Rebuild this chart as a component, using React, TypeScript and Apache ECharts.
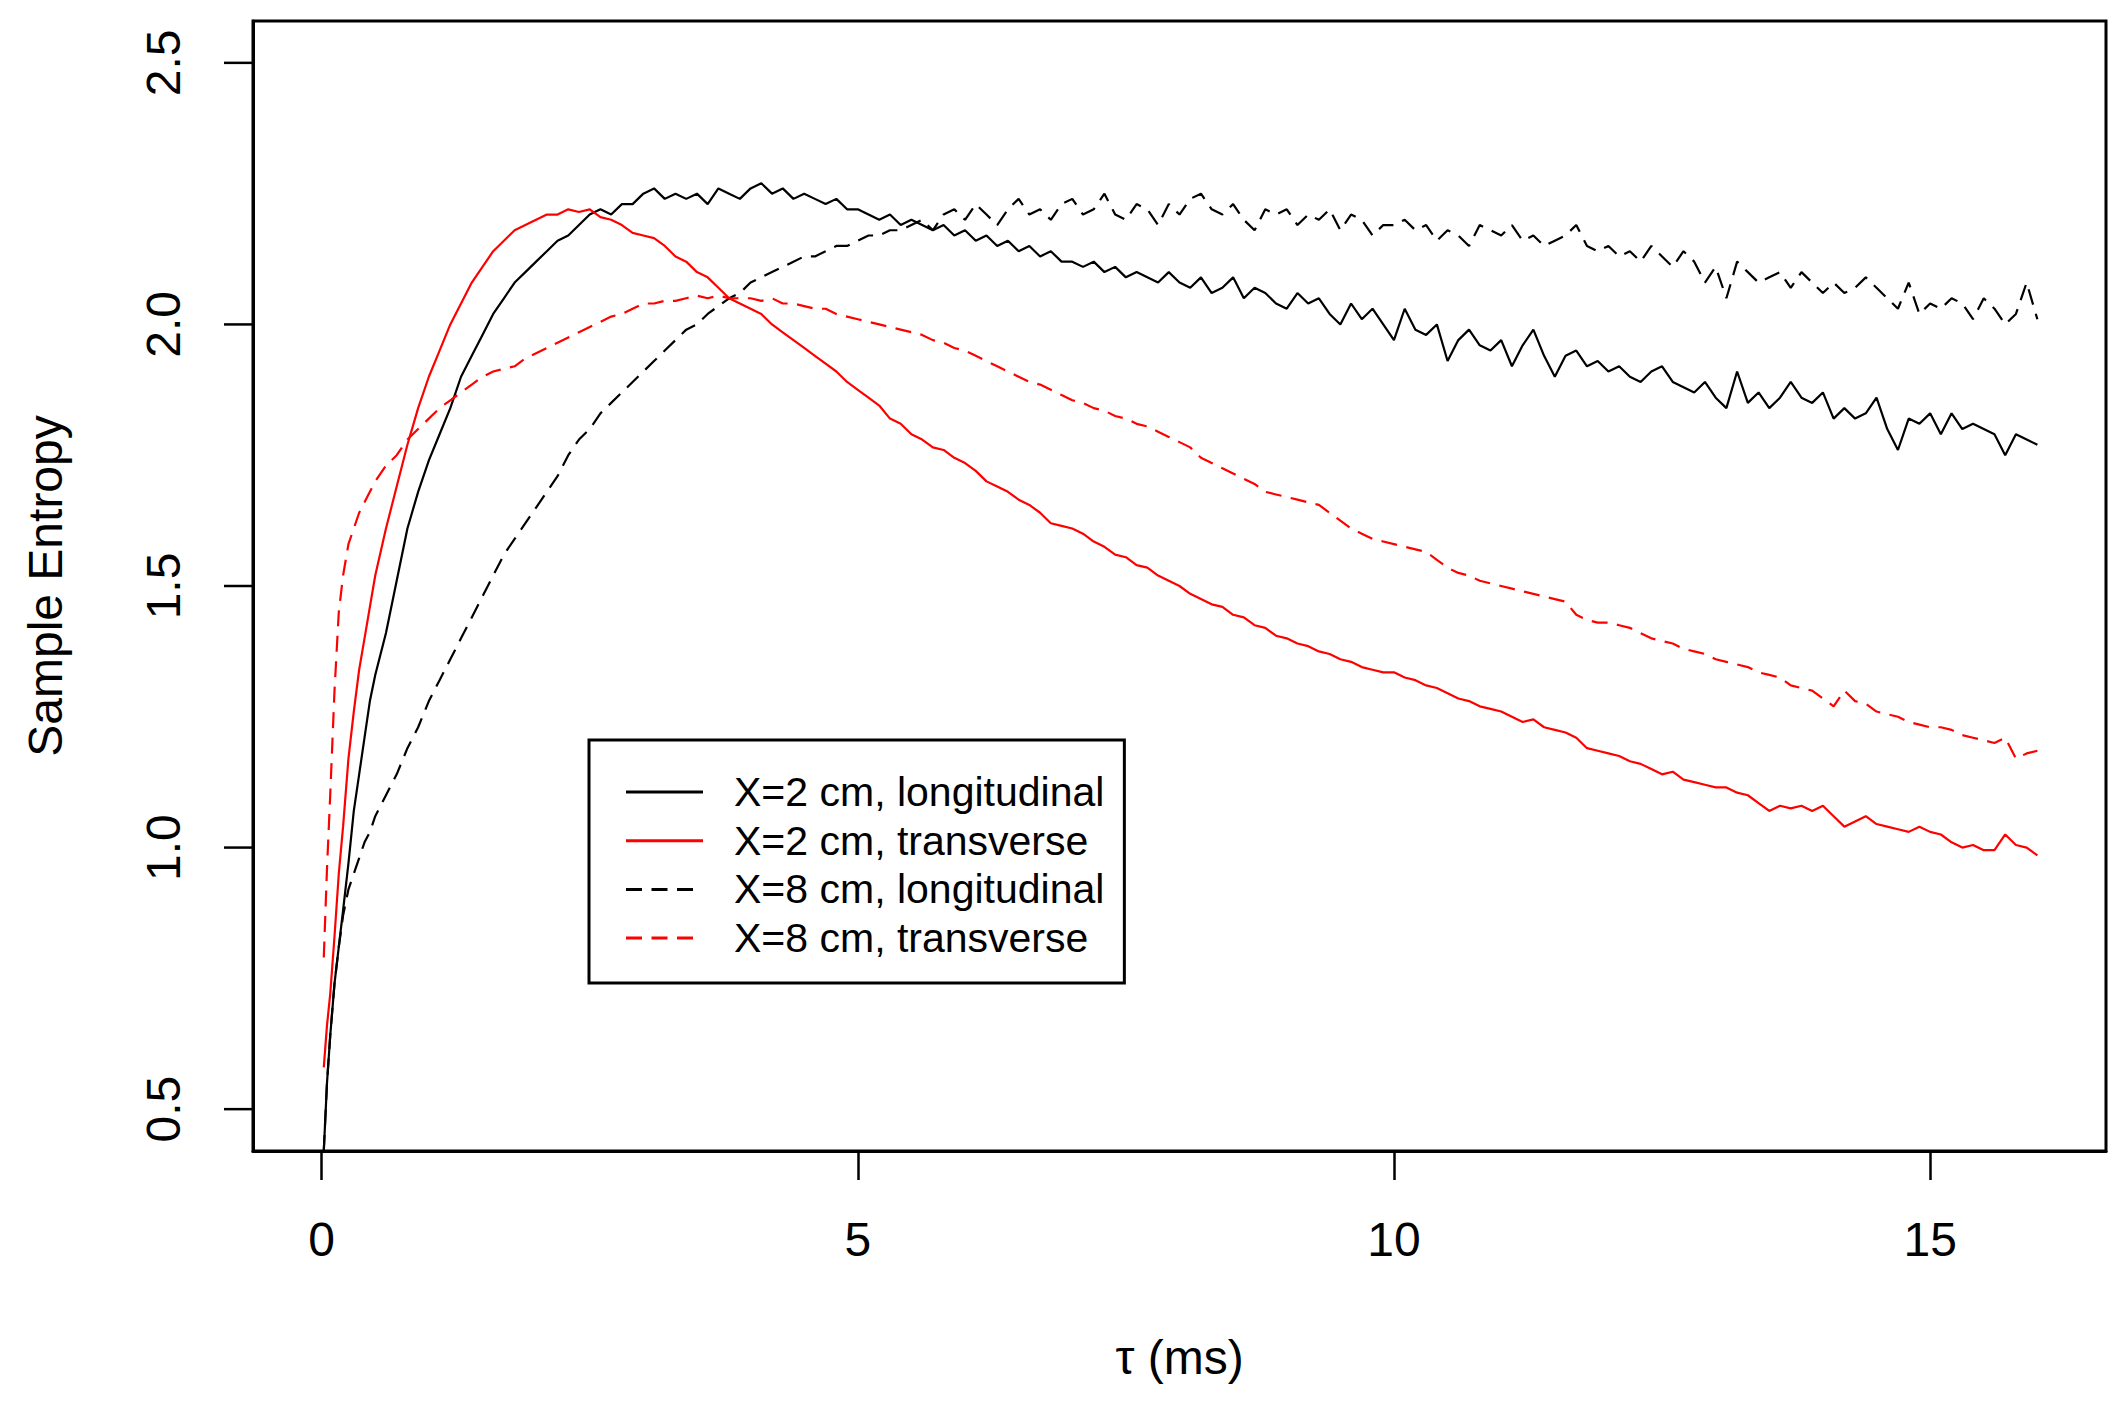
import React, { useEffect, useRef } from "react";
import * as echarts from "echarts";

const tau = [
  0.02, 0.05, 0.08, 0.12, 0.16, 0.2, 0.25, 0.3, 0.35, 0.4, 0.45,
  0.5, 0.6, 0.7, 0.8, 0.9,
  1.0, 1.1, 1.2, 1.3, 1.4, 1.5, 1.6, 1.7, 1.8, 1.9,
  2.0, 2.1, 2.2, 2.3, 2.4, 2.5, 2.6, 2.7, 2.8, 2.9,
  3.0, 3.1, 3.2, 3.3, 3.4, 3.5, 3.6, 3.7, 3.8, 3.9,
  4.0, 4.1, 4.2, 4.3, 4.4, 4.5, 4.6, 4.7, 4.8, 4.9,
  5.0, 5.1, 5.2, 5.3, 5.4, 5.5, 5.6, 5.7, 5.8, 5.9,
  6.0, 6.1, 6.2, 6.3, 6.4, 6.5, 6.6, 6.7, 6.8, 6.9,
  7.0, 7.1, 7.2, 7.3, 7.4, 7.5, 7.6, 7.7, 7.8, 7.9,
  8.0, 8.1, 8.2, 8.3, 8.4, 8.5, 8.6, 8.7, 8.8, 8.9,
  9.0, 9.1, 9.2, 9.3, 9.4, 9.5, 9.6, 9.7, 9.8, 9.9,
  10.0, 10.1, 10.2, 10.3, 10.4, 10.5, 10.6, 10.7, 10.8, 10.9,
  11.0, 11.1, 11.2, 11.3, 11.4, 11.5, 11.6, 11.7, 11.8, 11.9,
  12.0, 12.1, 12.2, 12.3, 12.4, 12.5, 12.6, 12.7, 12.8, 12.9,
  13.0, 13.1, 13.2, 13.3, 13.4, 13.5, 13.6, 13.7, 13.8, 13.9,
  14.0, 14.1, 14.2, 14.3, 14.4, 14.5, 14.6, 14.7, 14.8, 14.9,
  15.0, 15.1, 15.2, 15.3, 15.4, 15.5, 15.6, 15.7, 15.8, 15.9,
  16.0,
];

const x2Longitudinal = [
  0.42, 0.55, 0.64, 0.74, 0.81, 0.88, 0.97, 1.07, 1.14, 1.21, 1.28,
  1.33, 1.41, 1.51, 1.61, 1.68,
  1.74, 1.79, 1.84, 1.9, 1.94, 1.98, 2.02, 2.05, 2.08, 2.1,
  2.12, 2.14, 2.16, 2.17, 2.19, 2.21, 2.22, 2.21, 2.23, 2.23,
  2.25, 2.26, 2.24, 2.25, 2.24, 2.25, 2.23, 2.26, 2.25, 2.24,
  2.26, 2.27, 2.25, 2.26, 2.24, 2.25, 2.24, 2.23, 2.24, 2.22,
  2.22, 2.21, 2.2, 2.21, 2.19, 2.2, 2.19, 2.18, 2.19, 2.17,
  2.18, 2.16, 2.17, 2.15, 2.16, 2.14, 2.15, 2.13, 2.14, 2.12,
  2.12, 2.11, 2.12, 2.1, 2.11, 2.09, 2.1, 2.09, 2.08, 2.1,
  2.08, 2.07, 2.09, 2.06, 2.07, 2.09, 2.05, 2.07, 2.06, 2.04,
  2.03, 2.06, 2.04, 2.05, 2.02, 2.0, 2.04, 2.01, 2.03, 2.0,
  1.97, 2.03, 1.99, 1.98, 2.0, 1.93, 1.97, 1.99, 1.96, 1.95,
  1.97, 1.92, 1.96, 1.99, 1.94, 1.9, 1.94, 1.95, 1.92, 1.93,
  1.91, 1.92, 1.9, 1.89, 1.91, 1.92, 1.89, 1.88, 1.87, 1.89,
  1.86, 1.84, 1.91, 1.85, 1.87, 1.84, 1.86, 1.89, 1.86, 1.85,
  1.87, 1.82, 1.84, 1.82, 1.83, 1.86, 1.8, 1.76, 1.82, 1.81,
  1.83, 1.79, 1.83, 1.8, 1.81, 1.8, 1.79, 1.75, 1.79, 1.78,
  1.77,
];

const x2Transverse = [
  0.58, 0.66, 0.72, 0.83, 0.95, 1.04, 1.17, 1.26, 1.34, 1.4, 1.46,
  1.52, 1.61, 1.69, 1.77, 1.84,
  1.9, 1.95, 2.0, 2.04, 2.08, 2.11, 2.14, 2.16, 2.18, 2.19,
  2.2, 2.21, 2.21, 2.22, 2.215, 2.22, 2.205, 2.2, 2.19, 2.175,
  2.17, 2.165, 2.15, 2.13, 2.12, 2.1, 2.09, 2.07, 2.05, 2.04,
  2.03, 2.02, 2.0, 1.985, 1.97, 1.955, 1.94, 1.925, 1.91, 1.89,
  1.875, 1.86, 1.845, 1.82, 1.81, 1.79, 1.78, 1.765, 1.76, 1.745,
  1.735, 1.72, 1.7, 1.69, 1.68, 1.665, 1.655, 1.64, 1.62, 1.615,
  1.61, 1.6, 1.585, 1.575, 1.56, 1.555, 1.54, 1.535, 1.52, 1.51,
  1.5, 1.485, 1.475, 1.465, 1.46, 1.445, 1.44, 1.425, 1.42, 1.405,
  1.4, 1.39, 1.385, 1.375, 1.37, 1.36, 1.355, 1.345, 1.34, 1.335,
  1.335, 1.325, 1.32, 1.31, 1.305, 1.295, 1.285, 1.28, 1.27, 1.265,
  1.26, 1.25, 1.24, 1.245, 1.23, 1.225, 1.22, 1.21, 1.19, 1.185,
  1.18, 1.175, 1.165, 1.16, 1.15, 1.14, 1.145, 1.13, 1.125, 1.12,
  1.115, 1.115, 1.105, 1.1, 1.085, 1.07, 1.08, 1.075, 1.08, 1.07,
  1.08, 1.06, 1.04, 1.05, 1.06, 1.045, 1.04, 1.035, 1.03, 1.04,
  1.03, 1.025, 1.01, 1.0, 1.005, 0.995, 0.995, 1.025, 1.005, 1.0,
  0.985,
];

const x8Longitudinal = [
  0.42, 0.55, 0.64, 0.74, 0.81, 0.87, 0.92, 0.95, 0.98, 1.01, 1.03,
  1.06, 1.1, 1.14, 1.19, 1.23,
  1.28, 1.32, 1.36, 1.4, 1.44, 1.48, 1.52, 1.56, 1.59, 1.62,
  1.65, 1.68, 1.71, 1.75, 1.78, 1.8, 1.83, 1.85, 1.87, 1.89,
  1.91, 1.93, 1.95, 1.97, 1.99, 2.0, 2.02, 2.035, 2.05, 2.06,
  2.08, 2.09, 2.1, 2.11, 2.12, 2.13, 2.13, 2.14, 2.15, 2.15,
  2.16, 2.17, 2.17, 2.18, 2.18, 2.19, 2.2, 2.18, 2.21, 2.22,
  2.2, 2.23, 2.21, 2.19, 2.22, 2.24, 2.21, 2.22, 2.2, 2.23,
  2.24, 2.21, 2.22, 2.25, 2.21, 2.2, 2.23, 2.22, 2.19, 2.23,
  2.21, 2.24, 2.25, 2.22, 2.21, 2.23, 2.2, 2.18, 2.22, 2.21,
  2.22, 2.19, 2.21, 2.2, 2.22, 2.18, 2.21, 2.2, 2.17, 2.19,
  2.19, 2.2, 2.18, 2.19, 2.16, 2.18, 2.17, 2.15, 2.19, 2.18,
  2.17, 2.19, 2.16, 2.17, 2.15, 2.16, 2.17, 2.19, 2.15, 2.14,
  2.15, 2.13, 2.14, 2.12, 2.15, 2.13, 2.11, 2.14, 2.12, 2.08,
  2.11, 2.05, 2.12, 2.1, 2.08, 2.09, 2.1, 2.07, 2.1, 2.08,
  2.06, 2.08, 2.06, 2.07, 2.09, 2.07, 2.05, 2.03, 2.08, 2.02,
  2.04, 2.03, 2.05, 2.04, 2.01, 2.05, 2.03, 2.0, 2.02, 2.08,
  2.01,
];

const x8Transverse = [
  0.79, 0.96, 1.1, 1.3, 1.45, 1.52, 1.58, 1.61, 1.64, 1.66, 1.68,
  1.7, 1.73, 1.75, 1.78, 1.8,
  1.82, 1.84, 1.855, 1.87, 1.885, 1.9, 1.91, 1.915, 1.92, 1.935,
  1.945, 1.955, 1.965, 1.975, 1.985, 1.995, 2.005, 2.015, 2.02, 2.03,
  2.04, 2.04, 2.045, 2.045, 2.05, 2.055, 2.05, 2.055, 2.05, 2.05,
  2.05, 2.045, 2.05, 2.04, 2.04, 2.035, 2.03, 2.03, 2.02, 2.015,
  2.01, 2.005, 2.0, 1.995, 1.99, 1.985, 1.98, 1.97, 1.965, 1.955,
  1.95, 1.94, 1.93, 1.92, 1.91, 1.9, 1.89, 1.885, 1.875, 1.865,
  1.855, 1.85, 1.84, 1.835, 1.825, 1.82, 1.81, 1.805, 1.795, 1.785,
  1.775, 1.765, 1.745, 1.735, 1.725, 1.715, 1.705, 1.695, 1.68, 1.675,
  1.67, 1.665, 1.66, 1.655, 1.64, 1.625, 1.61, 1.6, 1.59, 1.585,
  1.58, 1.575, 1.57, 1.565, 1.55, 1.535, 1.525, 1.52, 1.51, 1.505,
  1.5, 1.495, 1.49, 1.485, 1.48, 1.475, 1.47, 1.445, 1.435, 1.43,
  1.43, 1.425, 1.42, 1.41, 1.4, 1.395, 1.39, 1.38, 1.375, 1.37,
  1.36, 1.355, 1.35, 1.345, 1.335, 1.33, 1.325, 1.31, 1.305, 1.3,
  1.285, 1.27, 1.3, 1.28, 1.275, 1.26, 1.255, 1.25, 1.24, 1.235,
  1.23, 1.23, 1.225, 1.215, 1.21, 1.205, 1.2, 1.21, 1.17, 1.18,
  1.185,
];

const seriesNames = [
  "X=2 cm, longitudinal",
  "X=2 cm, transverse",
  "X=8 cm, longitudinal",
  "X=8 cm, transverse",
];

const xTicks = [0, 5, 10, 15];
const yTicks = [0.5, 1.0, 1.5, 2.0, 2.5];
const xMin = -0.64;
const xMax = 16.64;
const yMin = 0.42;
const yMax = 2.58;

const FONT = "'Liberation Sans', Arial, sans-serif";
const SOLID_ICON = "path://M0,0H77V3H0Z";
const DASH_ICON = "path://M0,0H16V3H0Z M25.5,0H41.5V3H25.5Z M51,0H67V3H51Z M77,0L77,3Z";
const TICK_LEN = 29;

export default function App() {
  const ref = useRef<HTMLDivElement>(null);
  useEffect(() => {
    document.body.style.margin = "0";
    const chart = echarts.init(ref.current!, null, { renderer: "svg" });
    const pairs = (vals: number[]) => tau.map((t, i) => [t, vals[i]]);
    const mk = (name: string, vals: number[], color: string, dashed: boolean) => ({
      name,
      type: "line",
      data: pairs(vals),
      showSymbol: false,
      symbol: "none",
      smooth: false,
      lineStyle: { color, width: 2.2, type: dashed ? [16, 9.5] : "solid" },
      itemStyle: { color },
      emphasis: { disabled: true },
      z: 2,
    });
    const axisLine = { show: true, onZero: false, lineStyle: { color: "#000", width: 3 } };
    chart.setOption({
      animation: false,
      backgroundColor: "#fff",
      grid: {
        left: 253,
        right: 17,
        top: 21,
        bottom: 255,
        show: true,
        borderColor: "#000",
        borderWidth: 3,
        backgroundColor: "transparent",
        containLabel: false,
        outerBoundsMode: "none",
      },
      xAxis: {
        type: "value",
        min: xMin,
        max: xMax,
        axisLine,
        splitLine: { show: false },
        axisTick: {
          show: true,
          inside: false,
          length: TICK_LEN,
          lineStyle: { color: "#000", width: 2.5 },
          customValues: xTicks,
        },
        axisLabel: {
          customValues: xTicks,
          fontSize: 48,
          color: "#000",
          fontFamily: FONT,
          margin: 64,
          formatter: (v: number) => String(v),
        },
        name: "τ (ms)",
        nameLocation: "middle",
        nameGap: 182,
        nameTextStyle: { fontSize: 48, color: "#000", fontFamily: FONT },
      },
      yAxis: {
        type: "value",
        min: yMin,
        max: yMax,
        axisLine,
        splitLine: { show: false },
        axisTick: { show: false },
        axisLabel: {
          customValues: yTicks,
          rotate: 90,
          fontSize: 48,
          color: "#000",
          fontFamily: FONT,
          margin: 66,
          formatter: (v: number) => v.toFixed(1),
        },
        name: "Sample Entropy",
        nameLocation: "middle",
        nameGap: 184,
        nameTextStyle: { fontSize: 48, color: "#000", fontFamily: FONT },
      },
      legend: {
        orient: "vertical",
        left: 589,
        top: 740,
        padding: [31, 20, 24, 37],
        itemWidth: 77,
        itemHeight: 3,
        itemGap: 6.7,
        symbolKeepAspect: false,
        borderColor: "#000",
        borderWidth: 3,
        backgroundColor: "#fff",
        selectedMode: false,
        itemStyle: { borderWidth: 0 },
        textStyle: {
          fontSize: 41,
          lineHeight: 42,
          color: "#000",
          fontFamily: FONT,
          padding: [0, 0, 0, 26],
        },
        data: [
          { name: seriesNames[0], icon: SOLID_ICON, itemStyle: { color: "#000", borderWidth: 0 } },
          { name: seriesNames[1], icon: SOLID_ICON, itemStyle: { color: "#ff0000", borderWidth: 0 } },
          { name: seriesNames[2], icon: DASH_ICON, itemStyle: { color: "#000", borderWidth: 0 } },
          { name: seriesNames[3], icon: DASH_ICON, itemStyle: { color: "#ff0000", borderWidth: 0 } },
        ],
      },
      series: [
        mk(seriesNames[0], x2Longitudinal, "#000000", false),
        mk(seriesNames[1], x2Transverse, "#ff0000", false),
        mk(seriesNames[2], x8Longitudinal, "#000000", true),
        mk(seriesNames[3], x8Transverse, "#ff0000", true),
      ],
    });
    // y-axis tick marks, positioned through the chart's own scale
    const yTickRects = yTicks.map((v) => {
      const p = chart.convertToPixel({ xAxisIndex: 0, yAxisIndex: 0 }, [xMin, v]) as number[];
      return {
        type: "rect",
        shape: { x: p[0] - TICK_LEN, y: p[1] - 1.25, width: TICK_LEN, height: 2.5 },
        style: { fill: "#000" },
        silent: true,
        z: 100,
        zlevel: 0,
      };
    });
    chart.setOption({ graphic: { elements: yTickRects } });
    return () => chart.dispose();
  }, []);
  return <div ref={ref} style={{ width: 2123, height: 1406, background: "#fff" }} />;
}
